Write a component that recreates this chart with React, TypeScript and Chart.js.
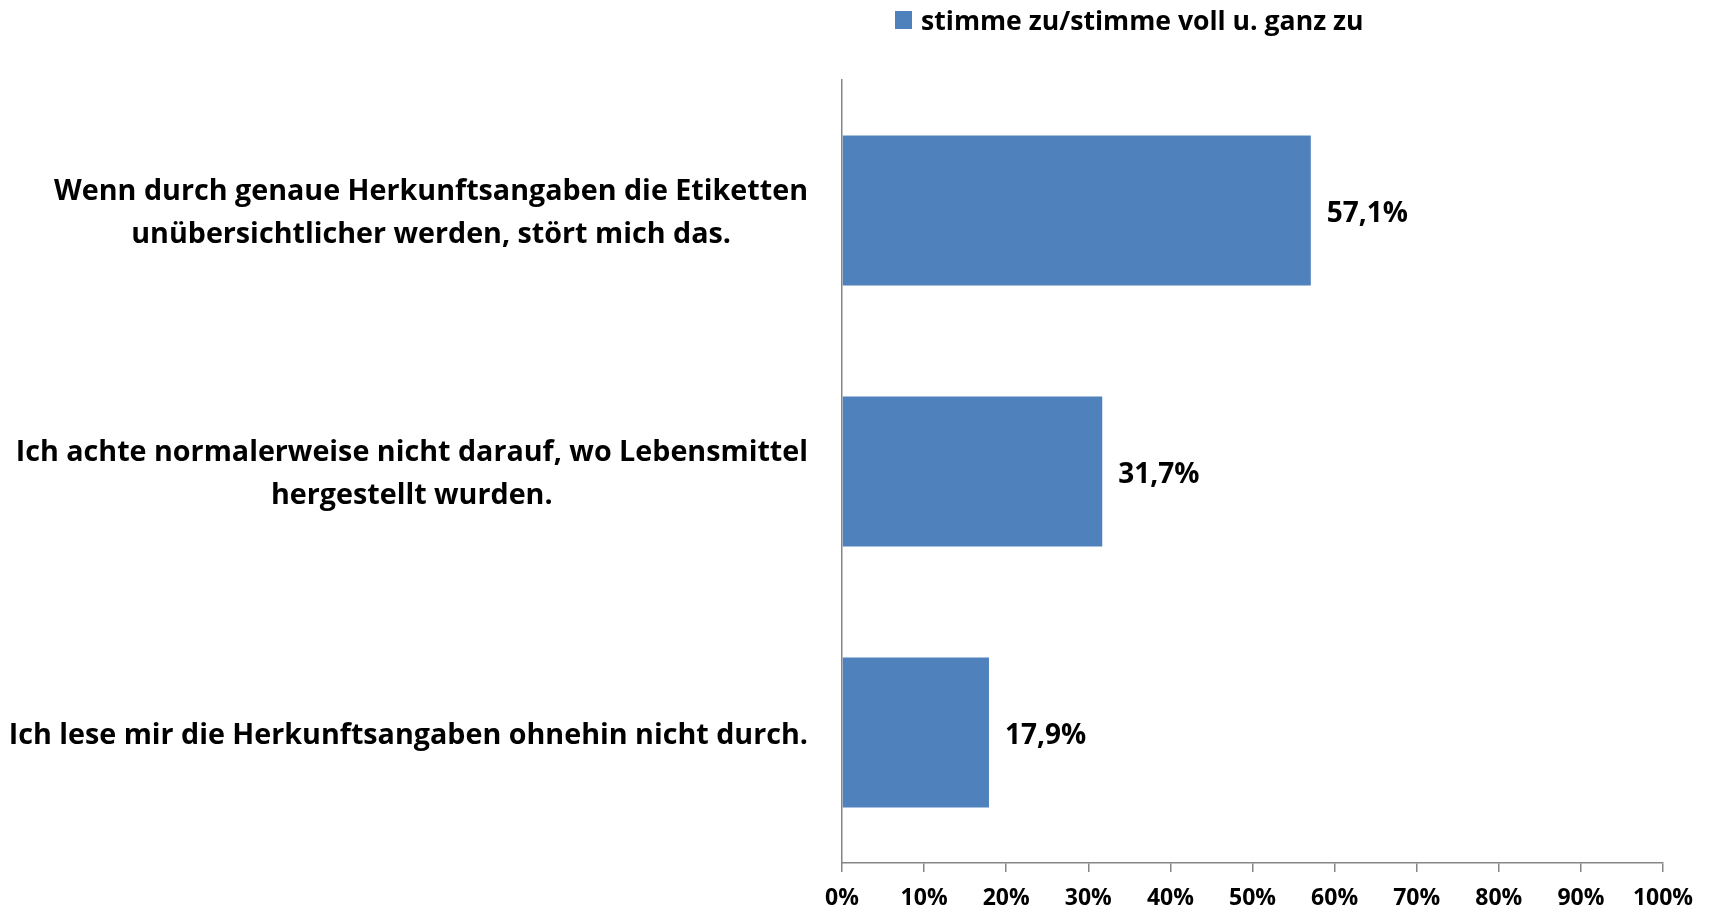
import React, { useEffect, useRef } from "react";
import { Chart, registerables } from "chart.js";

Chart.register(...registerables);

const categories: string[][] = [
  ["Wenn durch genaue Herkunftsangaben die Etiketten", "unübersichtlicher werden, stört mich das."],
  ["Ich achte normalerweise nicht darauf, wo Lebensmittel", "hergestellt wurden."],
  ["Ich lese mir die Herkunftsangaben ohnehin nicht durch."],
];
const seriesName = "stimme zu/stimme voll u. ganz zu";
const values: number[] = [0.571, 0.317, 0.179];
const xTicks: number[] = [0, 0.1, 0.2, 0.3, 0.4, 0.5, 0.6, 0.7, 0.8, 0.9, 1];

const BAR_COLOR = "#4F81BD";
const AXIS_COLOR = "#868686";
const FONT = "'Open Sans', 'DejaVu Sans', sans-serif";

const fmtPct = (v: number) => (v * 100).toFixed(1).replace(".", ",") + "%";

const labelsPlugin = {
  id: "customLabels",
  afterDraw(chart: any) {
    const ctx = chart.ctx as CanvasRenderingContext2D;
    const area = chart.chartArea;
    const yScale = chart.scales.y;
    // category labels: block right-aligned, lines centered inside block
    ctx.save();
    ctx.fillStyle = "#000";
    ctx.font = `bold 28.7px ${FONT}`;
    ctx.textBaseline = "middle";
    ctx.textAlign = "center";
    const lh = 43.6;
    categories.forEach((lines, i) => {
      const yc = yScale.getPixelForValue(i) + 3;
      const blockW = Math.max(...lines.map((l) => ctx.measureText(l).width));
      const right = area.left - 34;
      const cx = right - blockW / 2;
      lines.forEach((l, j) => {
        const y = yc - (lh * (lines.length - 1)) / 2 + j * lh;
        ctx.fillText(l, cx, y);
      });
    });
    // data labels
    const meta = chart.getDatasetMeta(0);
    ctx.textAlign = "left";
    ctx.font = `bold 28px ${FONT}`;
    meta.data.forEach((bar: any, i: number) => {
      ctx.fillText(fmtPct(values[i]), bar.x + 16, bar.y + 4);
    });
    // legend
    ctx.fillStyle = BAR_COLOR;
    ctx.fillRect(895, 11, 17, 18);
    ctx.fillStyle = "#000";
    ctx.font = `bold 26.6px ${FONT}`;
    ctx.textBaseline = "alphabetic";
    ctx.fillText(seriesName, 921, 30);
    ctx.restore();
  },
};

export default function App() {
  const ref = useRef<HTMLCanvasElement | null>(null);
  useEffect(() => {
    if (!ref.current) return;
    const chart = new Chart(ref.current, {
      type: "bar",
      data: {
        labels: categories.map((c) => c.join(" ")),
        datasets: [
          {
            label: seriesName,
            data: values,
            backgroundColor: BAR_COLOR,
            borderWidth: 0,
            barPercentage: 0.575,
            categoryPercentage: 1,
          },
        ],
      },
      options: {
        indexAxis: "y",
        animation: false,
        responsive: true,
        maintainAspectRatio: false,
        layout: { padding: { top: 80, right: 46, left: 0, bottom: 0 } },
        plugins: { legend: { display: false }, tooltip: { enabled: false } },
        scales: {
          x: {
            min: 0,
            max: 1,
            afterBuildTicks: (scale: any) => {
              scale.ticks = xTicks.map((v) => ({ value: v }));
            },
            afterFit: (scale: any) => {
              scale.height = 47;
            },
            ticks: {
              callback: (v: any) => Math.round(Number(v) * 100) + "%",
              font: { family: FONT, size: 23, weight: "bold" },
              color: "#000",
              padding: 13,
              maxRotation: 0,
              autoSkip: false,
            },
            grid: {
              display: true,
              drawOnChartArea: false,
              drawTicks: true,
              tickLength: 9,
              color: AXIS_COLOR,
              lineWidth: 1.5,
            },
            border: { display: true, color: AXIS_COLOR, width: 1.5 },
          },
          y: {
            afterFit: (scale: any) => {
              scale.width = 842;
            },
            ticks: { display: false },
            grid: { display: false },
            border: { display: true, color: AXIS_COLOR, width: 1.5 },
          },
        },
      },
      plugins: [labelsPlugin],
    });
    return () => chart.destroy();
  }, []);
  return (
    <div style={{ position: "fixed", left: 0, top: 0, width: 1709, height: 910, background: "#fff" }}>
      <canvas ref={ref} />
    </div>
  );
}
